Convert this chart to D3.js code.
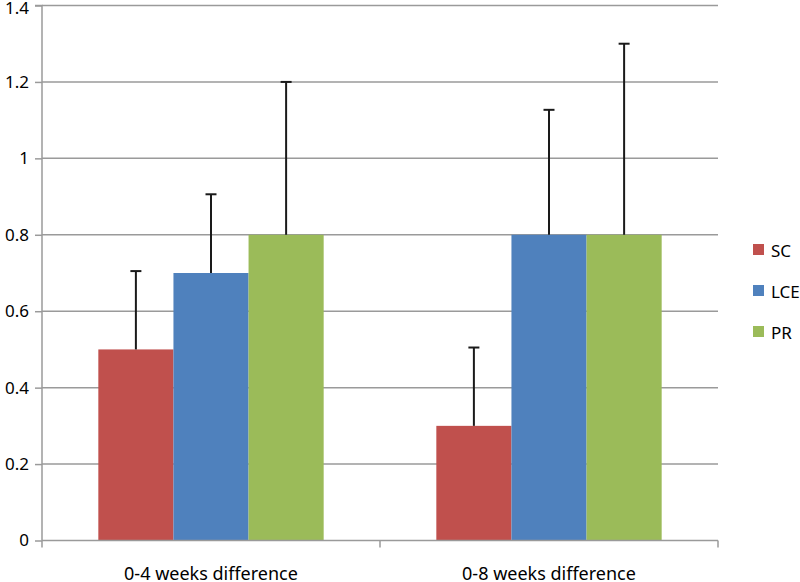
<!DOCTYPE html>
<html><head><meta charset="utf-8">
<script src="https://cdn.jsdelivr.net/npm/d3@7"></script>
<style>body{margin:0;background:#fff;} text{font-family:"Noto Sans","Open Sans",sans-serif;fill:#000;}</style>
</head><body><svg id="c" width="800" height="582"></svg>
<script>
const categories = ["0-4 weeks difference", "0-8 weeks difference"];
const seriesNames = ["SC", "LCE", "PR"];
const seriesColors = ["#C0504D", "#4F81BD", "#9BBB59"];
const scValues = [0.5, 0.3];
const lceValues = [0.7, 0.8];
const prValues = [0.8, 0.8];
const scErrors = [0.205, 0.205];
const lceErrors = [0.206, 0.327];
const prErrors = [0.4, 0.5];
const yTicks = [0, 0.2, 0.4, 0.6, 0.8, 1, 1.2, 1.4];

const values = [scValues, lceValues, prValues];
const errors = [scErrors, lceErrors, prErrors];

const svg = d3.select("#c");
const mLeft = 42, mRight = 718, mTop = 5.5, mBottom = 540.5;
const y = d3.scaleLinear().domain([0, 1.4]).range([mBottom, mTop]);
const x0 = d3.scaleBand().domain(categories).range([mLeft, mRight]).padding(0);
const x1 = d3.scaleBand().domain(seriesNames).range([0, x0.bandwidth()]).paddingInner(0).paddingOuter(0.75);

// gridlines
svg.append("g").selectAll("line").data(yTicks.slice(1)).join("line")
  .attr("x1", mLeft).attr("x2", mRight)
  .attr("y1", d => y(d)).attr("y2", d => y(d))
  .attr("stroke", "#9a9a9a").attr("stroke-width", 1.5);

// bars
const data = [];
categories.forEach((c, ci) => seriesNames.forEach((s, si) => data.push({c, s, si, v: values[si][ci], e: errors[si][ci]})));
svg.append("g").selectAll("rect").data(data).join("rect")
  .attr("x", d => x0(d.c) + x1(d.s))
  .attr("width", x1.bandwidth())
  .attr("y", d => y(d.v))
  .attr("height", d => y(0) - y(d.v))
  .attr("fill", d => seriesColors[d.si]);

// error bars
const eb = svg.append("g").attr("stroke", "#1a1a1a").attr("stroke-width", 2);
data.forEach(d => {
  const cx = x0(d.c) + x1(d.s) + x1.bandwidth() / 2;
  eb.append("line").attr("x1", cx).attr("x2", cx).attr("y1", y(d.v)).attr("y2", y(d.v + d.e));
  eb.append("line").attr("x1", cx - 5.5).attr("x2", cx + 5.5).attr("y1", y(d.v + d.e)).attr("y2", y(d.v + d.e));
});

// y axis
const yAxis = d3.axisLeft(y).tickValues(yTicks).tickSize(7).tickPadding(6).tickFormat(d => d3.format("")(+d.toFixed(1)));
const gy = svg.append("g").attr("transform", `translate(${mLeft},0)`).call(yAxis);
gy.select(".domain").attr("stroke", "#9a9a9a").attr("stroke-width", 1.5).attr("d", `M-7,${mTop}H0V${mBottom}`);
gy.selectAll(".tick line").attr("stroke", "#9a9a9a").attr("stroke-width", 1.5);
gy.selectAll(".tick text").style("font-size", "17px").attr("fill", "#000").style("font-family", "'Noto Sans',sans-serif")
  .attr("dy", (d) => d === 1.4 ? "0.45em" : "0.32em");

// x axis
const gx = svg.append("g").attr("transform", `translate(0,${mBottom})`);
gx.append("line").attr("x1", mLeft).attr("x2", mRight).attr("y1", 0).attr("y2", 0).attr("stroke", "#9a9a9a").attr("stroke-width", 1.5);
const bounds = [mLeft, x0(categories[1]), mRight];
gx.selectAll("line.t").data(bounds).join("line").attr("class", "t")
  .attr("x1", d => d).attr("x2", d => d).attr("y1", 0).attr("y2", 7)
  .attr("stroke", "#9a9a9a").attr("stroke-width", 1.5);
gx.selectAll("text").data(categories).join("text")
  .attr("x", d => x0(d) + x0.bandwidth() / 2).attr("y", 39.5)
  .attr("text-anchor", "middle").style("font-size", "18px").text(d => d);

// legend
const lg = svg.append("g");
seriesNames.forEach((s, i) => {
  const cy = 250 + i * 41;
  lg.append("rect").attr("x", 753).attr("y", cy - 6).attr("width", 11).attr("height", 11).attr("fill", seriesColors[i]);
  lg.append("text").attr("x", 771).attr("y", cy + 7).style("font-size", "17px").text(s);
});
</script></body></html>
